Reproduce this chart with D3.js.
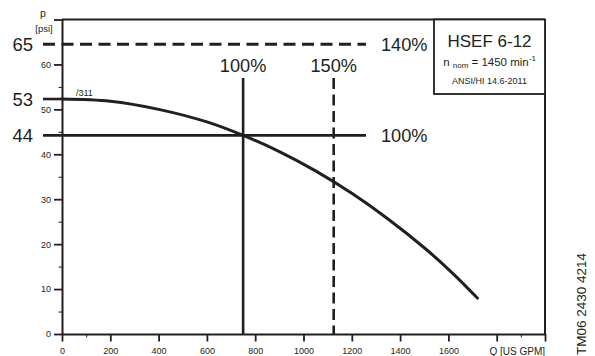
<!DOCTYPE html>
<html><head><meta charset="utf-8">
<script src="https://cdn.jsdelivr.net/npm/d3@7"></script>
<style>
html,body{margin:0;padding:0;background:#fff;}
svg{display:block;font-family:"Liberation Sans",Arial,Helvetica,sans-serif;}
</style></head>
<body>
<svg id="chart" width="595" height="356"></svg>
<script>
// ---- data ----
const flowQ     = [0, 200, 400, 600, 750, 900, 1050, 1200, 1350, 1500, 1620, 1720];   // US GPM
const pressureP = [52.3, 51.8, 50.0, 47.2, 44.2, 40.6, 36.3, 31.3, 25.6, 19.2, 13.4, 8.0]; // psi
const xTicks = [0, 200, 400, 600, 800, 1000, 1200, 1400, 1600, 1800, 2000];
const xTickLabels = ["0","200","400","600","800","1000","1200","1400","1600","",""];
const xMinorTicks = [100, 1900];
const yTicks = [0, 10, 20, 30, 40, 50, 60, 70];
const yTickLabels = ["0","10","20","30","40","50","60",""];
const yMinorTicks = [5, 15, 25, 35, 45, 55];
const hLineValues = [64.5, 52.3, 44.2];
const hLineLabels = ["65", "53", "44"];
const hLineRightLabels = ["140%", null, "100%"];
const hLineDashed = [true, false, false];
const vLineValues = [750, 1125];
const vLineLabels = ["100%", "150%"];
const vLineDashed = [false, true];
const vLineTop = 57;
const curveLabel = "/311";
const titleText = "HSEF 6-12";
const speedText = ["n ", "nom", " = 1450 min", "-1"];
const standardText = "ANSI/HI 14.6-2011";
const xAxisTitle = "Q [US GPM]";
const yAxisTitle = ["p", "[psi]"];
const docId = "TM06 2430 4214";

// ---- layout ----
const ink = "#231f20";
const svg = d3.select("#chart");
const x = d3.scaleLinear().domain([0, 2000]).range([62, 545]);
const y = d3.scaleLinear().domain([0, 70]).range([334, 19.5]);

// axes
const yAxis = d3.axisLeft(y).tickValues(yTicks).tickSize(8).tickPadding(3).tickSizeOuter(0)
  .tickFormat((d, i) => yTickLabels[i]);
const gy = svg.append("g").attr("transform", `translate(${x(0)},0)`).call(yAxis);
gy.select(".domain").attr("stroke", ink).attr("stroke-width", 2);
gy.selectAll(".tick line").attr("stroke", ink).attr("stroke-width", 1.8);
gy.selectAll(".tick text").attr("fill", ink).style("font-size", "9px").style("font-family", "inherit");

const yMinor = d3.axisLeft(y).tickValues(yMinorTicks).tickSize(3.5).tickFormat("").tickSizeOuter(0);
const gym = svg.append("g").attr("transform", `translate(${x(0)},0)`).call(yMinor);
gym.select(".domain").remove();
gym.selectAll(".tick line").attr("stroke", ink).attr("stroke-width", 1);

const xAxis = d3.axisBottom(x).tickValues(xTicks).tickSize(7.5).tickPadding(6).tickSizeOuter(0)
  .tickFormat((d, i) => xTickLabels[i]);
const gx = svg.append("g").attr("transform", `translate(0,${y(0)})`).call(xAxis);
gx.select(".domain").attr("stroke", ink).attr("stroke-width", 2);
gx.selectAll(".tick line").attr("stroke", ink).attr("stroke-width", 1.8);
gx.selectAll(".tick text").attr("fill", ink).style("font-size", "9px").style("font-family", "inherit");

const xMinor = d3.axisBottom(x).tickValues(xMinorTicks).tickSize(3.5).tickFormat("").tickSizeOuter(0);
const gxm = svg.append("g").attr("transform", `translate(0,${y(0)})`).call(xMinor);
gxm.select(".domain").remove();
gxm.selectAll(".tick line").attr("stroke", ink).attr("stroke-width", 1);

// top and right frame
svg.append("line").attr("x1", x(0)).attr("x2", x(2000)).attr("y1", y(70)).attr("y2", y(70))
  .attr("stroke", ink).attr("stroke-width", 2);
svg.append("line").attr("x1", x(2000)).attr("x2", x(2000)).attr("y1", y(70)).attr("y2", y(0))
  .attr("stroke", ink).attr("stroke-width", 2);

// axis titles
svg.append("text").attr("x", 43).attr("y", 17).attr("text-anchor", "middle")
  .attr("fill", ink).style("font-size", "10.5px").text(yAxisTitle[0]);
svg.append("text").attr("x", 44).attr("y", 32).attr("text-anchor", "middle")
  .attr("fill", ink).style("font-size", "9.5px").text(yAxisTitle[1]);
svg.append("text").attr("x", 545).attr("y", 355).attr("text-anchor", "end")
  .attr("fill", ink).style("font-size", "10px").text(xAxisTitle);

// horizontal reference lines
hLineValues.forEach((v, i) => {
  const yy = y(v);
  const x2 = hLineRightLabels[i] ? 366 : x(0);
  const ln = svg.append("line").attr("x1", 43).attr("x2", x2).attr("y1", yy).attr("y2", yy)
    .attr("stroke", ink).attr("stroke-width", hLineDashed[i] ? 3 : 2.6);
  if (hLineDashed[i]) ln.attr("stroke-dasharray", "12,6.5");
  svg.append("text").attr("x", 33).attr("y", yy + 6.6).attr("text-anchor", "end")
    .attr("fill", ink).style("font-size", "18.5px").text(hLineLabels[i]);
  if (hLineRightLabels[i]) {
    svg.append("text").attr("x", 381).attr("y", yy + 6.6)
      .attr("fill", ink).style("font-size", "18.2px").text(hLineRightLabels[i]);
  }
});

// vertical reference lines
vLineValues.forEach((v, i) => {
  const xx = x(v);
  const ln = svg.append("line").attr("x1", xx).attr("x2", xx).attr("y1", y(vLineTop)).attr("y2", y(0))
    .attr("stroke", ink).attr("stroke-width", 2.6);
  if (vLineDashed[i]) ln.attr("stroke-dasharray", "11,5.5");
  svg.append("text").attr("x", xx).attr("y", 72).attr("text-anchor", "middle")
    .attr("fill", ink).style("font-size", "18.2px").text(vLineLabels[i]);
});

// pump curve
const pts = flowQ.map((q, i) => [q, pressureP[i]]);
svg.append("path").datum(pts)
  .attr("d", d3.line().x(d => x(d[0])).y(d => y(d[1])).curve(d3.curveCatmullRom.alpha(0.5)))
  .attr("fill", "none").attr("stroke", ink).attr("stroke-width", 3).attr("stroke-linecap", "round");
svg.append("text").attr("x", 76).attr("y", 95.5).attr("fill", ink)
  .style("font-size", "9px").text(curveLabel);

// info box
const box = {x: 434, y: y(70), w: x(2000) - 434, h: 94 - y(70)};
svg.append("rect").attr("x", box.x).attr("y", box.y).attr("width", box.w).attr("height", box.h)
  .attr("fill", "#fff").attr("stroke", ink).attr("stroke-width", 1.8);
const cx = box.x + box.w / 2;
svg.append("text").attr("x", cx).attr("y", 46.5).attr("text-anchor", "middle")
  .attr("fill", ink).style("font-size", "17px").text(titleText);
const t2 = svg.append("text").attr("x", cx).attr("y", 65.5).attr("text-anchor", "middle")
  .attr("fill", ink).style("font-size", "11.5px");
t2.append("tspan").text(speedText[0]);
t2.append("tspan").attr("dy", 2.5).style("font-size", "8px").text(speedText[1]);
t2.append("tspan").attr("dy", -2.5).text(speedText[2]);
t2.append("tspan").attr("dy", -5).style("font-size", "8px").text(speedText[3]);
svg.append("text").attr("x", cx).attr("y", 84).attr("text-anchor", "middle")
  .attr("fill", ink).style("font-size", "9px").text(standardText);

// document id
svg.append("text").attr("transform", "translate(586,355) rotate(-90)")
  .attr("fill", ink).style("font-size", "13.5px").text(docId);
</script>
</body></html>
